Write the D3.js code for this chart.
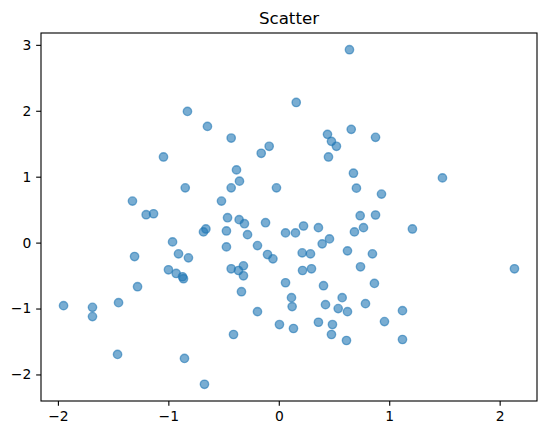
<!DOCTYPE html>
<meta charset="utf-8">
<script src="https://d3js.org/d3.v7.min.js"></script>
<style>
  body { margin: 0; background: #fff; }
  text { font-family: "DejaVu Sans", sans-serif; }
</style>
<svg id="chart" width="546" height="435"></svg>

<script>
  // point values
  var xs = [-0.827, -0.646, -0.431, -1.044, -0.159, -0.087, -0.383, -0.356, -0.431, -0.847,
            -0.021, -1.325, -0.519, -1.201, -1.134, -0.464, -0.359, -0.311, -0.120, 0.640,
            0.158, 0.441, 0.477, 0.522, 0.450, 0.656, 0.876, 0.676, 0.703, 0.930,
            1.482, 0.737, 0.876, -0.682, -0.660, -0.474, -0.283, 0.061, -0.962, -0.474,
            -0.193, -1.306, -0.908, -0.818, -0.102, -0.053, -0.999, -0.929, -0.872, -0.863,
            -0.431, -0.365, -0.320, -0.320, 0.061, -1.279, -0.338, -1.949, -1.687, -1.687,
            -1.451, -0.193, 0.006, -0.410, -1.460, -0.854, -0.673, 0.151, 0.224, 0.359,
            0.459, 0.393, 0.685, 0.767, 1.210, 0.212, 0.287, 0.622, 0.848, 0.215,
            0.296, 0.740, 0.405, 0.866, 2.134, 0.115, 0.121, 0.423, 0.574, 0.538,
            0.622, 0.785, 1.120, 0.133, 0.359, 0.486, 0.477, 0.613, 0.957, 1.120];
  var ys = [1.990, 1.763, 1.586, 1.299, 1.355, 1.461, 1.103, 0.932, 0.831, 0.831,
            0.831, 0.630, 0.630, 0.423, 0.438, 0.378, 0.348, 0.287, 0.302, 2.926,
            2.126, 1.642, 1.536, 1.461, 1.299, 1.718, 1.597, 1.053, 0.826, 0.736,
            0.982, 0.408, 0.419, 0.162, 0.207, 0.177, 0.121, 0.147, 0.011, -0.065,
            -0.045, -0.211, -0.170, -0.231, -0.181, -0.246, -0.412, -0.468, -0.518, -0.548,
            -0.397, -0.423, -0.352, -0.503, -0.609, -0.669, -0.745, -0.956, -0.982, -1.122,
            -0.911, -1.047, -1.243, -1.394, -1.696, -1.757, -2.149, 0.147, 0.252, 0.227,
            0.056, -0.019, 0.162, 0.227, 0.207, -0.155, -0.170, -0.125, -0.170, -0.423,
            -0.397, -0.367, -0.654, -0.619, -0.397, -0.835, -0.971, -0.941, -0.835, -1.001,
            -1.047, -0.926, -1.032, -1.303, -1.208, -1.243, -1.394, -1.485, -1.198, -1.470];

  var xTicks = [-2, -1, 0, 1, 2];
  var yTicks = [-2, -1, 0, 1, 2, 3];
  var title = "Scatter";

  var pts = xs.map(function(x, i) { return {x: x, y: ys[i]}; });

  var margin = {left: 41, right: 537, top: 33, bottom: 401};
  var pt = 100 / 72; // matplotlib points -> px

  // matplotlib-style 5% margins
  function padded(vals) {
    var e = d3.extent(vals), r = e[1] - e[0];
    return [e[0] - 0.05 * r, e[1] + 0.05 * r];
  }

  var x = d3.scaleLinear().domain(padded(xs)).range([margin.left, margin.right]);
  var y = d3.scaleLinear().domain(padded(ys)).range([margin.bottom, margin.top]);

  var svg = d3.select("#chart");
  var fmt = function(d) { return d < 0 ? "\u2212" + Math.abs(d) : String(d); };

  // dots
  svg.append("g")
    .selectAll("circle")
    .data(pts)
    .enter()
    .append("circle")
      .attr("cx", function(d) { return x(d.x); })
      .attr("cy", function(d) { return y(d.y); })
      .attr("r", 3 * pt)
      .style("fill", "#1f77b4")
      .style("fill-opacity", 0.6)
      .style("stroke", "#1f77b4")
      .style("stroke-opacity", 0.6)
      .style("stroke-width", 1 * pt);

  // axes
  var xAxis = svg.append("g")
    .attr("transform", "translate(0," + margin.bottom + ")")
    .call(d3.axisBottom(x).tickValues(xTicks).tickFormat(fmt)
      .tickSize(3.5 * pt).tickSizeOuter(0).tickPadding(3.5 * pt));
  var yAxis = svg.append("g")
    .attr("transform", "translate(" + margin.left + ",0)")
    .call(d3.axisLeft(y).tickValues(yTicks).tickFormat(fmt)
      .tickSize(3.5 * pt).tickSizeOuter(0).tickPadding(3.5 * pt));

  [xAxis, yAxis].forEach(function(a) {
    a.select(".domain").remove();
    a.selectAll("line").attr("stroke", "#000").attr("stroke-width", 0.8 * pt);
    a.selectAll("text")
      .style("font-family", "'DejaVu Sans', sans-serif")
      .style("font-size", (10 * pt) + "px")
      .attr("fill", "#000");
  });

  // frame
  svg.append("rect")
    .attr("x", margin.left).attr("y", margin.top)
    .attr("width", margin.right - margin.left).attr("height", margin.bottom - margin.top)
    .attr("fill", "none")
    .attr("stroke", "#000")
    .attr("stroke-width", 0.8 * pt);

  svg.append("text")
    .attr("x", (margin.left + margin.right) / 2)
    .attr("y", margin.top - 6 * pt - 1)
    .attr("text-anchor", "middle")
    .style("font-size", (12 * pt) + "px")
    .text(title);
</script>
